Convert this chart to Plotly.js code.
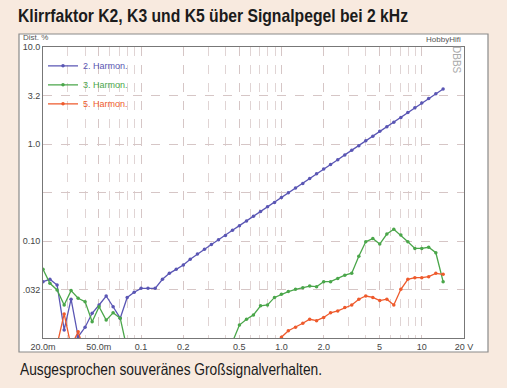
<!DOCTYPE html>
<html>
<head>
<meta charset="utf-8">
<script src="https://cdn.plot.ly/plotly-3.0.1.min.js"></script>
<style>
html,body{margin:0;padding:0;background:#f8eadf;}
#chart{width:507px;height:388px;}
</style>
</head>
<body>
<div id="chart"></div>
<script>
// Signal level (V), 1 dB steps
const level = [0.0200,0.0224,0.0252,0.0283,0.0317,0.0356,0.0399,0.0448,0.0502,0.0564,
  0.0632,0.0710,0.0796,0.0893,0.100,0.112,0.126,0.142,0.159,0.178,
  0.200,0.224,0.252,0.283,0.317,0.356,0.399,0.448,0.502,0.564,
  0.632,0.710,0.796,0.893,1.00,1.12,1.26,1.42,1.59,1.78,
  2.00,2.24,2.52,2.83,3.17,3.56,3.99,4.48,5.02,5.64,
  6.32,7.10,7.96,8.93,10.0,11.2,12.6,14.2];

// Distortion in %
const harm2 = [0.0381,0.0403,0.0352,0.0121,0.0251,0.0103,0.0129,0.0180,0.0219,0.0271,
  0.0210,0.0160,0.0262,0.0296,0.0325,0.0325,0.0325,0.0403,0.0464,0.0510,
  0.0566,0.0648,0.0735,0.0822,0.0919,0.103,0.114,0.129,0.144,0.161,
  0.180,0.202,0.225,0.250,0.281,0.315,0.352,0.392,0.440,0.494,
  0.551,0.614,0.689,0.772,0.861,0.960,1.08,1.20,1.35,1.51,
  1.68,1.88,2.11,2.36,2.64,2.95,3.30,3.69];

const harm3 = [0.0510,0.0366,0.0313,0.0219,0.0308,0.0257,0.0237,0.0147,0.0210,0.0153,
  0.0182,0.0160,0.0076,null,null,null,null,null,null,null,
  null,null,null,null,null,null,null,0.0091,0.0136,0.0156,
  0.0173,0.0215,0.0219,0.0262,0.0282,0.0301,0.0318,0.0330,0.0343,0.0338,
  0.0381,0.0381,0.0410,0.0444,0.0466,0.0698,0.0984,0.106,0.0931,0.118,
  0.132,0.115,0.0984,0.0839,0.0839,0.0861,0.0757,0.0381];

const harm5 = [null,null,0.0085,0.0177,0.0082,0.0116,0.0070,null,null,null,
  null,null,null,null,null,null,null,null,null,null,
  null,null,null,null,null,null,null,null,null,null,
  null,null,null,0.0070,0.0102,0.0119,0.0129,0.0142,0.0156,0.0151,
  0.0163,0.0182,0.0190,0.0206,0.0219,0.0251,0.0271,0.0262,0.0243,0.0251,
  0.0219,0.0318,0.0403,0.0419,0.0419,0.0429,0.0464,0.0453];

const seriesNames = ['2. Harmon.','3. Harmon.','5. Harmon.'];
const seriesColors = ['#5a56b4','#4aa64a','#ee5a2c'];

const xTickVals = [0.02,0.05,0.1,0.2,0.5,1,2,5,10,20];
const xTickText = ['20.0m','50.0m','0.1','0.2','0.5','1.0','2.0','5','10','20 V'];
const xMinorVals = [0.03,0.04,0.06,0.07,0.08,0.09,0.3,0.4,0.6,0.7,0.8,0.9,3,4,6,7,8,9];
const yTickVals = [10,3.162,1,0.3162,0.1,0.03162,0.01];
const yTickText = ['10.0','3.2','1.0','','0.10','.032',''];

const titleText = 'Klirrfaktor K2, K3 und K5 über Signalpegel bei 2 kHz';
const captionText = 'Ausgesprochen souveränes Großsignalverhalten.';

const ys = [harm2, harm3, harm5];
const traces = ys.map((y,i)=>({
  x: level, y: y, type:'scatter', mode:'lines+markers',
  name: '<span style="color:'+seriesColors[i]+'">'+seriesNames[i]+'</span>',
  line:{color:seriesColors[i], width:1.3},
  marker:{color:seriesColors[i], size:3.5},
  connectgaps:false
}));

// plot area: x 43..464, y 47..338
const W=421, H=291;
const px = v => (v-43)/W;
const py = v => (338-v)/H;

const layout = {
  width:507, height:388,
  margin:{l:43, r:43, t:47, b:50},
  paper_bgcolor:'#f8eadf',
  plot_bgcolor:'#ffffff',
  showlegend:true,
  legend:{x:0.0, y:0.985, xanchor:'left', yanchor:'top', bgcolor:'rgba(0,0,0,0)',
    font:{family:'Liberation Sans, Arial, sans-serif', size:9}, tracegroupgap:0,
    itemwidth:30},
  title:{text:titleText,
    font:{family:'Liberation Sans, Arial, sans-serif', size:19, color:'#1b1b1b', weight:'bold'},
    xref:'container', yref:'container', x:18/507, xanchor:'left', y:1-15/388, yanchor:'middle'},
  xaxis:{type:'log', range:[Math.log10(0.02), Math.log10(20)],
    tickmode:'array', tickvals:xTickVals, ticktext:xTickText, ticks:'',
    tickfont:{family:'Liberation Sans, Arial, sans-serif', size:9, color:'#444'},
    showgrid:true, gridcolor:'#d6c6c6', griddash:'dash', gridwidth:1,
    minor:{tickvals:xMinorVals, showgrid:true, gridcolor:'#e0d4d4', griddash:'dash', gridwidth:1},
    showline:true, linecolor:'#777', linewidth:1, mirror:true, zeroline:false},
  yaxis:{type:'log', range:[-2,1],
    tickmode:'array', tickvals:yTickVals, ticktext:yTickText, ticks:'',
    tickfont:{family:'Liberation Sans, Arial, sans-serif', size:9, color:'#444'},
    showgrid:true, gridcolor:'#d6c6c6', griddash:'dash', gridwidth:1,
    showline:true, linecolor:'#777', linewidth:1, mirror:true, zeroline:false},
  shapes:[
    {type:'rect', xref:'paper', yref:'paper', x0:px(19), x1:px(488), y0:py(352), y1:py(34),
     fillcolor:'#ffffff', line:{color:'#8a8a8a', width:1.2}, layer:'below'}
  ],
  annotations:[
    {text:'Dist. %', xref:'paper', yref:'paper', x:px(21), y:py(37.5), xanchor:'left', yanchor:'middle',
     showarrow:false, font:{family:'Liberation Sans, Arial, sans-serif', size:8, color:'#555'}},
    {text:'HobbyHifi', xref:'paper', yref:'paper', x:px(463), y:py(39), xanchor:'right', yanchor:'middle',
     showarrow:false, font:{family:'Liberation Sans, Arial, sans-serif', size:8, color:'#555'}},
    {text:'DBBS', xref:'paper', yref:'paper', x:px(456), y:py(60), xanchor:'center', yanchor:'middle',
     textangle:90, showarrow:false, font:{family:'Liberation Sans, Arial, sans-serif', size:10, color:'#aaa'}},
    {text:captionText, xref:'paper', yref:'paper',
     x:px(18), y:py(369), xanchor:'left', yanchor:'middle', showarrow:false,
     font:{family:'Liberation Sans, Arial, sans-serif', size:16.5, color:'#1b1b1b'}}
  ]
};

function condense(el, len){
  if(!el) return;
  const bb = el.getBBox();
  el.setAttribute('text-anchor','start');
  el.setAttribute('x', bb.x);
  el.setAttribute('textLength', len);
  el.setAttribute('lengthAdjust','spacingAndGlyphs');
}

Plotly.newPlot('chart', traces, layout, {displayModeBar:false, staticPlot:true}).then(gd=>{
  condense(gd.querySelector('.gtitle'), 390);
  gd.querySelectorAll('.annotation-text').forEach(t=>{
    if(t.textContent===captionText) condense(t, 302);
  });
});
</script>
</body>
</html>
